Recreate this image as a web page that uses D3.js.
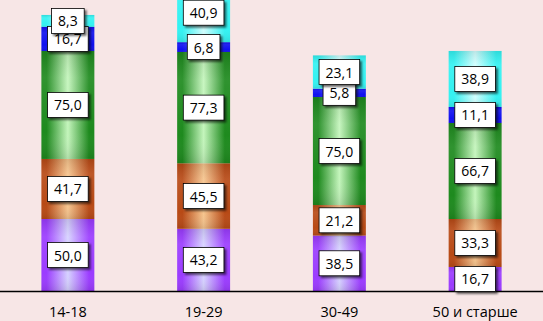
<!DOCTYPE html>
<html>
<head>
<meta charset="utf-8">
<script src="https://cdn.jsdelivr.net/npm/d3@7"></script>
<style>
  html, body { margin: 0; padding: 0; background: #f7e6e6; }
  svg { display: block; }
</style>
</head>
<body>
<svg id="chart" width="543" height="321"></svg>
<script>
// --- data ---
var categories = ['14-18', '19-29', '30-49', '50 и старше'];
var seriesNames = ['s1', 's2', 's3', 's4', 's5'];
var s1 = [50.0, 43.2, 38.5, 16.7];
var s2 = [41.7, 45.5, 21.2, 33.3];
var s3 = [75.0, 77.3, 75.0, 66.7];
var s4 = [16.7, 6.8, 5.8, 11.1];
var s5 = [8.3, 40.9, 23.1, 38.9];
var seriesValues = [s1, s2, s3, s4, s5];

// edge colour / centre colour for the pipe-like gradient
var edgeColors   = ['#9b3cff', '#b84a16', '#1e8a1e', '#1010f0', '#33f2f2'];
var centerColors = ['#d6d2ff', '#f6c58e', '#c4f5bc', '#5a5aff', '#d2ffff'];

var W = 543, H = 321;
var FONT = '"Open Sans", sans-serif';
var svg = d3.select('#chart');

svg.append('rect').attr('width', W).attr('height', H).attr('fill', '#f7e6e6');

// rows for the stack
var rows = categories.map(function(c, i) {
  var r = { cat: c };
  seriesNames.forEach(function(s, k) { r[s] = seriesValues[k][i]; });
  return r;
});
var stacked = d3.stack().keys(seriesNames)(rows);

var x = d3.scaleBand().domain(categories).range([0, W])
  .paddingInner(0.61).paddingOuter(0.305);
var y = d3.scaleLinear().domain([0, 200]).range([291, 3]);

// gradients
var defs = svg.append('defs');
seriesNames.forEach(function(s, k) {
  var g = defs.append('linearGradient').attr('id', 'grad' + k)
    .attr('x1', 0).attr('x2', 1).attr('y1', 0).attr('y2', 0);
  g.append('stop').attr('offset', '0%').attr('stop-color', edgeColors[k]);
  g.append('stop').attr('offset', '10%').attr('stop-color', edgeColors[k]);
  g.append('stop').attr('offset', '50%').attr('stop-color', centerColors[k]);
  g.append('stop').attr('offset', '90%').attr('stop-color', edgeColors[k]);
  g.append('stop').attr('offset', '100%').attr('stop-color', edgeColors[k]);
});
var vg = defs.append('linearGradient').attr('id', 'vshade')
  .attr('x1', 0).attr('x2', 0).attr('y1', 0).attr('y2', 1);
vg.append('stop').attr('offset', '0%').attr('stop-color', '#000').attr('stop-opacity', 0.1);
vg.append('stop').attr('offset', '25%').attr('stop-color', '#fff').attr('stop-opacity', 0.08);
vg.append('stop').attr('offset', '75%').attr('stop-color', '#fff').attr('stop-opacity', 0.0);
vg.append('stop').attr('offset', '100%').attr('stop-color', '#000').attr('stop-opacity', 0.1);

var filter = defs.append('filter').attr('id', 'shadow')
  .attr('x', '-20%').attr('y', '-20%').attr('width', '150%').attr('height', '160%');
filter.append('feDropShadow').attr('dx', 2).attr('dy', 2).attr('stdDeviation', 0.8)
  .attr('flood-color', '#000').attr('flood-opacity', 0.6);

// bars
var barG = svg.append('g');
stacked.forEach(function(layer, k) {
  var lg = barG.append('g');
  lg.selectAll('rect.seg').data(layer).enter().append('rect')
    .attr('x', function(d) { return x(d.data.cat); })
    .attr('y', function(d) { return y(d[1]); })
    .attr('width', x.bandwidth())
    .attr('height', function(d) { return y(d[0]) - y(d[1]); })
    .attr('fill', 'url(#grad' + k + ')');
  lg.selectAll('rect.sh').data(layer).enter().append('rect')
    .attr('x', function(d) { return x(d.data.cat); })
    .attr('y', function(d) { return y(d[1]); })
    .attr('width', x.bandwidth())
    .attr('height', function(d) { return y(d[0]) - y(d[1]); })
    .attr('fill', 'url(#vshade)');
});

// axis baseline
svg.append('line').attr('x1', 0).attr('x2', W).attr('y1', 291.5).attr('y2', 291.5)
  .attr('stroke', '#000').attr('stroke-width', 1.3);

// category labels
var xAxis = d3.axisBottom(x).tickSize(0).tickPadding(0);
var ax = svg.append('g').attr('transform', 'translate(0,291)').call(xAxis);
ax.select('.domain').remove();
ax.selectAll('text')
  .attr('dy', null).attr('y', 26)
  .style('font-family', FONT)
  .style('font-size', '14.5px')
  .attr('fill', '#000');

// value labels
var fmt = function(v) { return v.toFixed(1).replace('.', ','); };
var labG = svg.append('g');
stacked.forEach(function(layer, k) {
  layer.forEach(function(d) {
    var cx = x(d.data.cat) + x.bandwidth() / 2;
    var cy = (y(d[1]) + y(d[0])) / 2;
    var g = labG.append('g');
    var t = g.append('text')
      .attr('x', cx).attr('y', cy)
      .attr('text-anchor', 'middle').attr('dominant-baseline', 'central')
      .style('font-family', FONT)
      .style('font-size', '14px')
      .attr('fill', '#000')
      .text(fmt(d.data[seriesNames[k]]));
    var bw = t.node().getComputedTextLength() + 13;
    var bh = 25;
    g.insert('rect', 'text')
      .attr('x', cx - bw / 2).attr('y', cy - bh / 2)
      .attr('width', bw).attr('height', bh)
      .attr('fill', '#fff').attr('stroke', '#000').attr('stroke-width', 0.8)
      .attr('filter', 'url(#shadow)');
  });
});
</script>
</body>
</html>
